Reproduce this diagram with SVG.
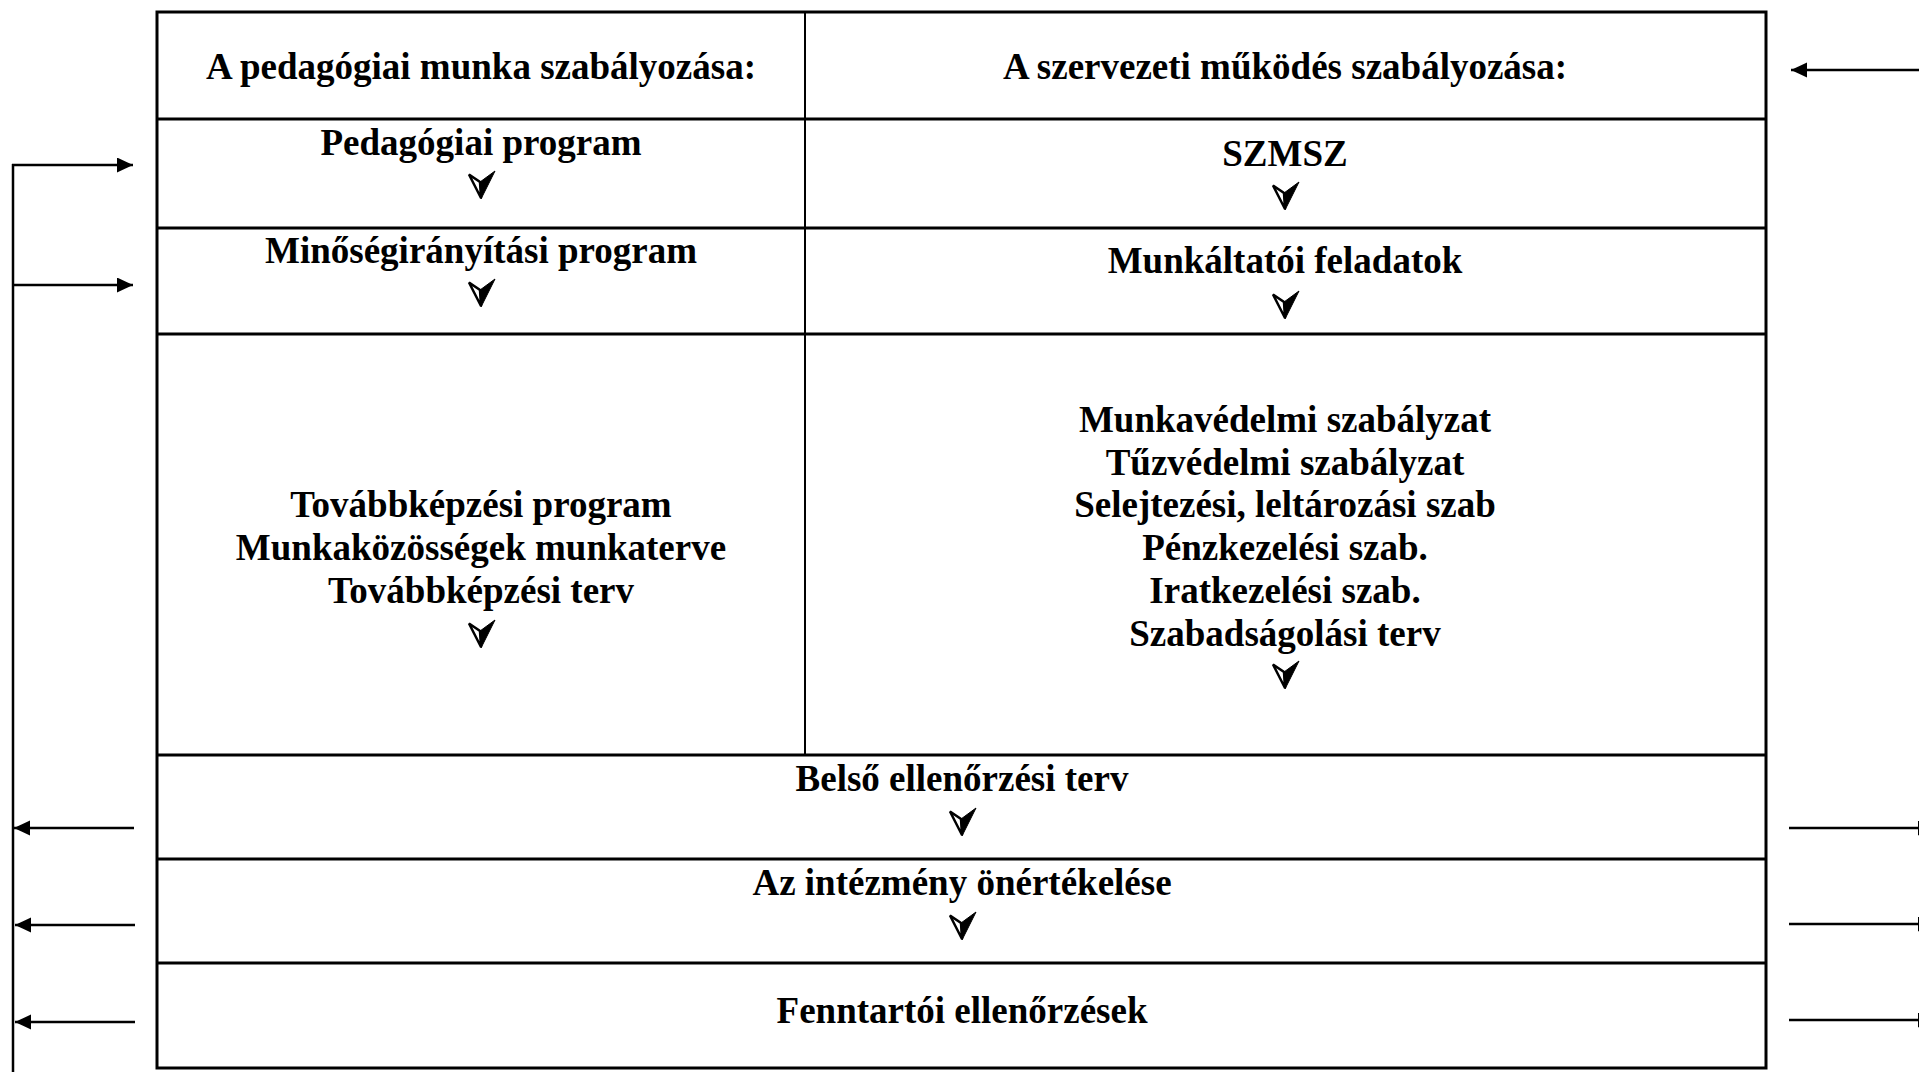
<svg xmlns="http://www.w3.org/2000/svg" width="1919" height="1072" viewBox="0 0 1919 1072">
<style>
.t{font-family:"Liberation Serif","Times New Roman",serif;font-weight:bold;font-size:37px;fill:#000;text-anchor:middle}
.b{fill:none;stroke:#000;stroke-width:3}
.d{fill:none;stroke:#000;stroke-width:2}
.c{fill:none;stroke:#000;stroke-width:2.5}
</style>
<defs>
<marker id="ah" markerUnits="userSpaceOnUse" markerWidth="17" markerHeight="16" refX="16" refY="7.5" orient="auto">
<path d="M0,0 L16,7.5 L0,15 Z" fill="#000"/>
</marker>
<g id="dn">
<path d="M-12,-9.5 L-1,-2 L0,14 Z" fill="#fff" stroke="#000" stroke-width="2.5" stroke-linejoin="miter"/>
<path d="M-1,-2 L14,-13 L0,15 Z" fill="#000" stroke="#000" stroke-width="1"/>
</g>
</defs>
<rect width="1919" height="1072" fill="#fff"/>
<g id="table">
<rect class="b" x="157" y="12" width="1609" height="1056"/>
<line class="d" x1="805" y1="12" x2="805" y2="755"/>
<line class="b" x1="157" y1="119" x2="1766" y2="119"/>
<line class="b" x1="157" y1="228" x2="1766" y2="228"/>
<line class="b" x1="157" y1="334" x2="1766" y2="334"/>
<line class="b" x1="157" y1="755" x2="1766" y2="755"/>
<line class="b" x1="157" y1="859" x2="1766" y2="859"/>
<line class="b" x1="157" y1="963" x2="1766" y2="963"/>
</g>
<g id="n-header-left"><text class="t" x="481" y="79">A pedagógiai munka szabályozása:</text></g>
<g id="n-header-right"><text class="t" x="1285" y="79">A szervezeti működés szabályozása:</text></g>
<g id="n-pedprog"><text class="t" x="481" y="155">Pedagógiai program</text><use href="#dn" x="481" y="184"/></g>
<g id="n-szmsz"><text class="t" x="1285" y="166">SZMSZ</text><use href="#dn" x="1285" y="195"/></g>
<g id="n-minoseg"><text class="t" x="481" y="263">Minőségirányítási program</text><use href="#dn" x="481" y="292"/></g>
<g id="n-munkaltatoi"><text class="t" x="1285" y="273">Munkáltatói feladatok</text><use href="#dn" x="1285" y="304"/></g>
<g id="n-tovabbkepzes">
<text class="t" x="481" y="517">Továbbképzési program</text>
<text class="t" x="481" y="560">Munkaközösségek munkaterve</text>
<text class="t" x="481" y="603">Továbbképzési terv</text>
<use href="#dn" x="481" y="633"/>
</g>
<g id="n-szabalyzatok">
<text class="t" x="1285" y="432">Munkavédelmi szabályzat</text>
<text class="t" x="1285" y="475">Tűzvédelmi szabályzat</text>
<text class="t" x="1285" y="517">Selejtezési, leltározási szab</text>
<text class="t" x="1285" y="560">Pénzkezelési szab.</text>
<text class="t" x="1285" y="603">Iratkezelési szab.</text>
<text class="t" x="1285" y="646">Szabadságolási terv</text>
<use href="#dn" x="1285" y="674"/>
</g>
<g id="n-belso"><text class="t" x="962" y="791">Belső ellenőrzési terv</text><use href="#dn" x="962" y="821"/></g>
<g id="n-onertekeles"><text class="t" x="962" y="895">Az intézmény önértékelése</text><use href="#dn" x="962" y="925"/></g>
<g id="n-fenntartoi"><text class="t" x="962" y="1023">Fenntartói ellenőrzések</text></g>
<g id="connectors">
<line class="c" x1="13" y1="164" x2="13" y2="1072"/>
<line class="c" x1="12" y1="165" x2="133" y2="165" marker-end="url(#ah)"/>
<line class="c" x1="12" y1="285" x2="133" y2="285" marker-end="url(#ah)"/>
<line class="c" x1="134" y1="828" x2="14" y2="828" marker-end="url(#ah)"/>
<line class="c" x1="135" y1="925" x2="15" y2="925" marker-end="url(#ah)"/>
<line class="c" x1="135" y1="1022" x2="15" y2="1022" marker-end="url(#ah)"/>
<line class="c" x1="1789" y1="828" x2="1934" y2="828" marker-end="url(#ah)"/>
<line class="c" x1="1789" y1="924" x2="1934" y2="924" marker-end="url(#ah)"/>
<line class="c" x1="1789" y1="1020" x2="1934" y2="1020" marker-end="url(#ah)"/>
<line class="c" x1="1919" y1="70" x2="1791" y2="70" marker-end="url(#ah)"/>
</g>
</svg>
